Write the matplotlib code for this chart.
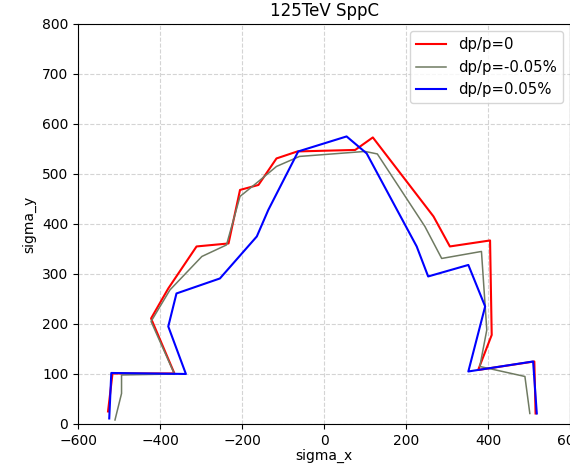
import numpy as np
import matplotlib
matplotlib.use('Agg')
import matplotlib.pyplot as plt

# dp/p = 0
x_0 = [-527, -516, -365, -422, -380, -311, -233, -205, -160, -116, -65, 76, 119, 267, 307, 405, 409, 376, 513, 516]
y_0 = [25, 101, 101, 211, 271, 355, 361, 468, 478, 531, 545, 548, 573, 415, 355, 367, 178, 108, 125, 21]

# dp/p = -0.05%
x_m = [-510, -494, -494, -365, -422, -376, -298, -238, -205, -160, -116, -60, 100, 130, 246, 287, 384, 397, 380, 490, 502]
y_m = [8, 61, 98, 100, 205, 268, 335, 358, 455, 485, 515, 535, 545, 540, 395, 331, 345, 188, 115, 95, 21]

# dp/p = 0.05%
x_p = [-524, -519, -337, -380, -360, -254, -164, -136, -63, 55, 104, 226, 254, 352, 393, 352, 510, 519]
y_p = [11, 102, 100, 195, 261, 291, 375, 428, 545, 575, 541, 355, 295, 318, 235, 105, 125, 21]

labels = ['dp/p=0', 'dp/p=-0.05%', 'dp/p=0.05%']

fig = plt.figure(figsize=(5.7, 4.69), dpi=100)
ax = fig.add_axes([0.137, 0.096, 0.863, 0.853])

ax.plot(x_0, y_0, color='red', lw=1.5, label=labels[0])
ax.plot(x_m, y_m, color='#6f7a62', lw=1.1, label=labels[1])
ax.plot(x_p, y_p, color='blue', lw=1.5, label=labels[2])

ax.set_xlim(-600, 600)
ax.set_ylim(0, 800)
ax.set_xticks(np.arange(-600, 601, 200))
ax.set_yticks(np.arange(0, 801, 100))
ax.grid(True, ls='--', color='#d4d4d4', lw=0.8)
ax.set_title('125TeV SppC')
ax.set_xlabel('sigma_x', labelpad=1)
ax.set_ylabel('sigma_y')
ax.legend(loc='upper right', fontsize=10.7)

fig.savefig('out.png', dpi=100)
